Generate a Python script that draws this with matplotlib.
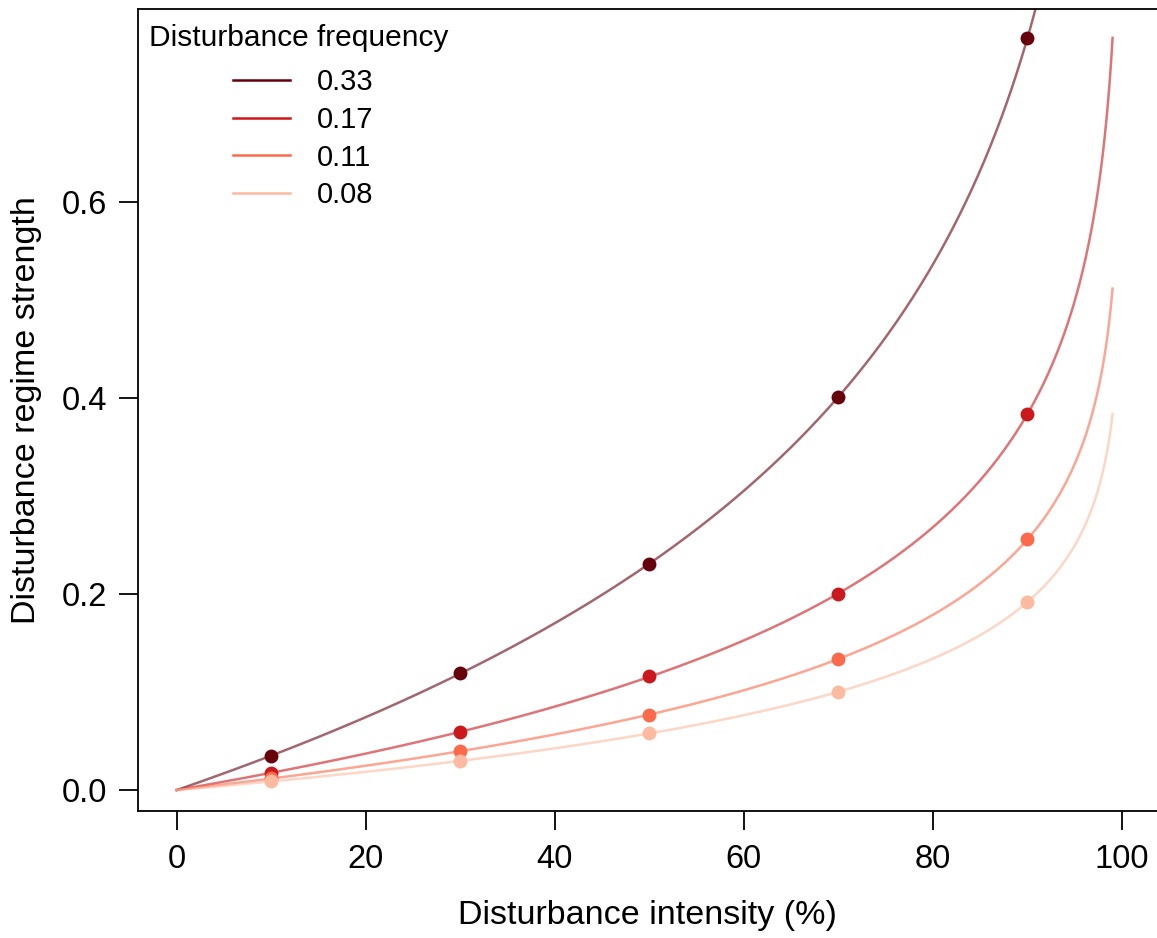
import numpy as np
import matplotlib.pyplot as plt
from matplotlib.lines import Line2D

plt.rcParams["font.family"] = ["Liberation Sans", "DejaVu Sans"]

# disturbance frequency groups
freq_labels = ["0.33", "0.17", "0.11", "0.08"]
freq_values = [1 / 3, 1 / 6, 1 / 9, 1 / 12]
colors = ["#67000D", "#CB181D", "#FB6A4A", "#FCBBA1"]

# observed points (intensity %, regime strength)
intensity_pts = [10, 30, 50, 70, 90]
strength_033 = [0.035, 0.119, 0.231, 0.401, 0.767]
strength_017 = [0.0176, 0.059, 0.116, 0.200, 0.384]
strength_011 = [0.012, 0.040, 0.077, 0.134, 0.256]
strength_008 = [0.009, 0.030, 0.058, 0.100, 0.192]
strengths = [strength_033, strength_017, strength_011, strength_008]

fig = plt.figure(figsize=(11.57, 9.38), dpi=100)
ax = fig.add_axes([138 / 1157, 127 / 938, 1019 / 1157, 802 / 938])

# model curve: strength = -f * ln(1 - intensity)
x = np.linspace(0, 99, 600)
for f, c in zip(freq_values, colors):
    ax.plot(x, -f * np.log(1 - x / 100), color=c, lw=1.8, alpha=0.6, zorder=2)

for s, c in zip(strengths, colors):
    ax.plot(intensity_pts, s, "o", color=c, ms=10, mec="none", zorder=3)

ax.set_xlim(-4.1, 103.7)
ax.set_ylim(-0.0214, 0.797)
ax.spines["right"].set_visible(False)
for sp in ax.spines.values():
    sp.set_linewidth(1.3)

ax.set_xticks([0, 20, 40, 60, 80, 100])
ax.set_yticks([0.0, 0.2, 0.4, 0.6])
ax.set_yticklabels(["0.0", "0.2", "0.4", "0.6"])
ax.tick_params(length=14, width=1.3, labelsize=23.5, pad=10)
ax.tick_params(axis="y", pad=8)

ax.set_xlabel("Disturbance intensity (%)", fontsize=24.5, labelpad=18)
ax.set_ylabel("Disturbance regime strength", fontsize=24.5, labelpad=14)

ax.text(0.011, 0.964, "Disturbance frequency", transform=ax.transAxes,
        fontsize=21.5, va="center", ha="left")
handles = [Line2D([], [], color=c, lw=1.8) for c in colors]
ax.legend(handles, freq_labels, loc="upper left", bbox_to_anchor=(0.093, 0.926),
          frameon=False, fontsize=21, handlelength=1.95, handletextpad=0.95,
          labelspacing=0.33, borderpad=0, borderaxespad=0)

fig.savefig("out.png", dpi=100)
